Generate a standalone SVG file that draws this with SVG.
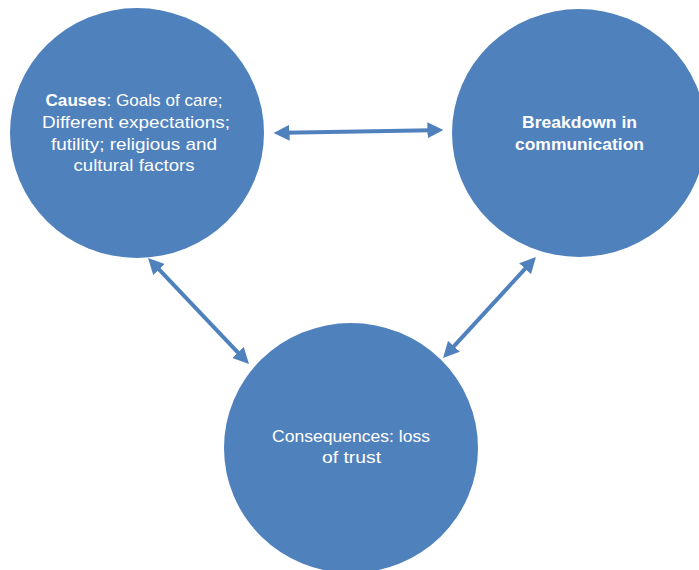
<svg xmlns="http://www.w3.org/2000/svg" width="699" height="570" viewBox="0 0 699 570">
<style>
.node{fill:#4F81BD;}
.t{fill:#FFFFFF;font-family:"Liberation Sans",Arial,sans-serif;font-size:17px;text-anchor:middle;}
.b{font-weight:bold;}
.conn{stroke:#4F81BD;stroke-width:4;fill:none;marker-start:url(#ah);marker-end:url(#ah);}
</style>
<defs>
<marker id="ah" markerUnits="userSpaceOnUse" markerWidth="16" markerHeight="16" refX="4" refY="7" orient="auto-start-reverse" viewBox="0 0 14 14">
<path d="M0,0 L14,7 L0,14 z" fill="#4F81BD"/>
</marker>
</defs>
<rect width="699" height="570" fill="#FFFFFF"/>
<g id="causes">
<ellipse class="node" cx="137" cy="133" rx="127" ry="125"/>
<text class="t" x="134" y="106" textLength="177" lengthAdjust="spacingAndGlyphs"><tspan class="b">Causes</tspan>: Goals of care;</text>
<text class="t" x="136" y="128" textLength="188" lengthAdjust="spacingAndGlyphs">Different expectations;</text>
<text class="t" x="134" y="149.5" textLength="166" lengthAdjust="spacingAndGlyphs">futility; religious and</text>
<text class="t" x="134" y="171" textLength="121" lengthAdjust="spacingAndGlyphs">cultural factors</text>
</g>
<g id="breakdown">
<ellipse class="node" cx="579" cy="133" rx="127" ry="124"/>
<text class="t b" x="579.5" y="128" textLength="115" lengthAdjust="spacingAndGlyphs">Breakdown in</text>
<text class="t b" x="579.5" y="150" textLength="129" lengthAdjust="spacingAndGlyphs">communication</text>
</g>
<g id="consequences">
<ellipse class="node" cx="351" cy="448" rx="127" ry="125"/>
<text class="t" x="351" y="442" textLength="158" lengthAdjust="spacingAndGlyphs">Consequences: loss</text>
<text class="t" x="351.5" y="463" textLength="59" lengthAdjust="spacingAndGlyphs">of trust</text>
</g>
<g id="connectors">
<line class="conn" x1="285" y1="132.8" x2="432" y2="130.2"/>
<line class="conn" x1="155.9" y1="266.2" x2="241.1" y2="355.8"/>
<line class="conn" x1="528.2" y1="265.4" x2="450.8" y2="349.6"/>
</g>
</svg>
